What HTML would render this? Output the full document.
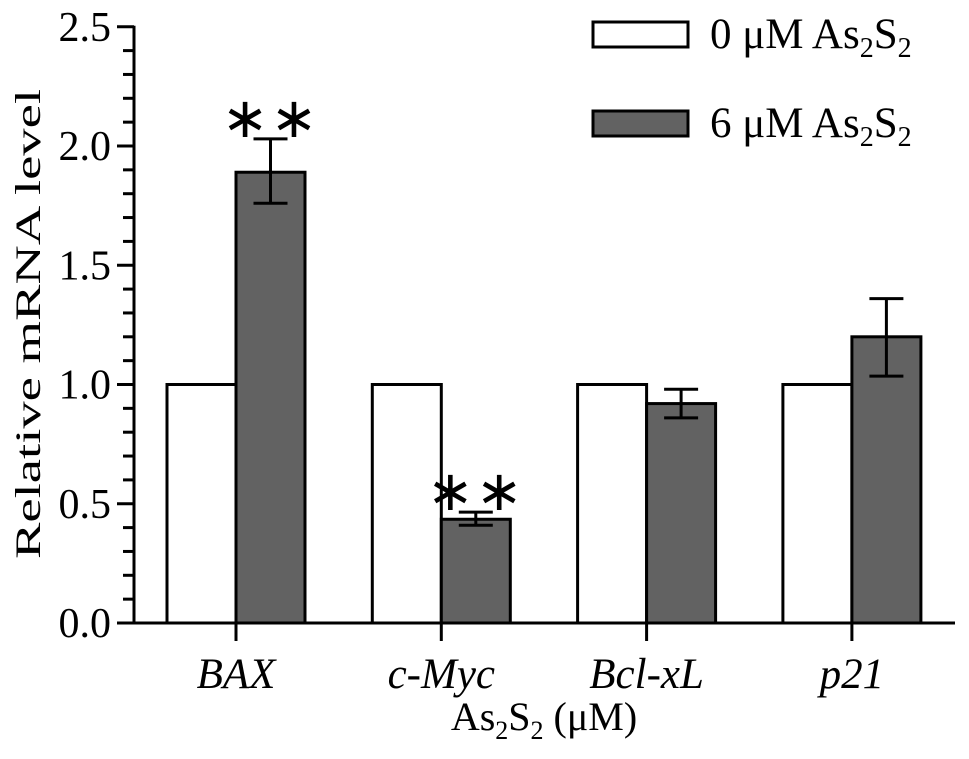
<!DOCTYPE html>
<html><head><meta charset="utf-8"><style>
body{margin:0;background:#fff}
text{font-family:"Liberation Serif",serif;fill:#000}
</style></head><body>
<svg id="c" width="969" height="754" xmlns="http://www.w3.org/2000/svg"></svg>
<script>
const categories=["BAX","c-Myc","Bcl-xL","p21"];
const control=[1,1,1,1];
const treated=[1.89,0.435,0.92,1.2];
const errLow=[1.76,0.41,0.86,1.035];
const errHigh=[2.03,0.465,0.98,1.36];
const sig=["**","**","",""];
const yTicks=[0,0.5,1.0,1.5,2.0,2.5];
const ns="http://www.w3.org/2000/svg";
const svg=document.getElementById('c');
const x0=134,y0=623,pxPer=238.5;
const y=v=>y0-v*pxPer;
const cx=i=>236+i*205.3;
const bw=69;
function mk(t,a,p){const e=document.createElementNS(ns,t);for(const k in a)e.setAttribute(k,a[k]);(p||svg).appendChild(e);return e;}
const yAxis=mk('g',{});


mk('line',{x1:x0,y1:y(2.5)-1,x2:x0,y2:y0+1.5,stroke:'#000','stroke-width':3},yAxis);
for(let k=0;k<=25;k++){const v=k/10;const major=k%5===0;
mk('line',{x1:major?117:123,y1:y(v),x2:x0,y2:y(v),stroke:'#000','stroke-width':3},yAxis);}
yTicks.forEach(v=>{const t=mk('text',{x:111,y:y(v)+14,'text-anchor':'end','font-size':42},yAxis);t.textContent=v.toFixed(1);

});
const yt=mk('text',{transform:'translate(40,324) rotate(-90)','text-anchor':'middle','font-size':36,textLength:470,lengthAdjust:'spacingAndGlyphs'});
yt.textContent='Relative mRNA level';


const xAxis=mk('g',{});


mk('line',{x1:x0-1.5,y1:y0,x2:955,y2:y0,stroke:'#000','stroke-width':3},xAxis);
categories.forEach((c,i)=>{
mk('line',{x1:cx(i),y1:y0,x2:cx(i),y2:641,stroke:'#000','stroke-width':3},xAxis);
const t=mk('text',{x:cx(i),y:688,'text-anchor':'middle','font-size':43,'font-style':'italic'},xAxis);t.textContent=c;


const b1=mk('rect',{x:cx(i)-bw,y:y(control[i]),width:bw,height:y0-y(control[i]),fill:'#fff',stroke:'#000','stroke-width':3});


const b2=mk('rect',{x:cx(i),y:y(treated[i]),width:bw,height:y0-y(treated[i]),fill:'#626262',stroke:'#000','stroke-width':3});


const m=cx(i)+bw/2;
const eb=mk('g',{stroke:'#000','stroke-width':3});


mk('line',{x1:m,y1:y(errHigh[i]),x2:m,y2:y(errLow[i])},eb);
mk('line',{x1:m-17,y1:y(errHigh[i]),x2:m+17,y2:y(errHigh[i])},eb);
mk('line',{x1:m-17,y1:y(errLow[i]),x2:m+17,y2:y(errLow[i])},eb);
if(sig[i]){const s=mk('text',{x:m,y:y(errHigh[i])-2,'text-anchor':'middle','font-size':56,'letter-spacing':2});s.textContent='∗∗';

}
});
const xt=mk('text',{x:544,y:730,'text-anchor':'middle','font-size':40});
xt.innerHTML='As<tspan font-size="26" dy="9">2</tspan><tspan dy="-9">S</tspan><tspan font-size="26" dy="9">2</tspan><tspan dy="-9"> (μM)</tspan>';


[['#fff','0 μM As',35],['#626262','6 μM As',124]].forEach((l,j)=>{
const g=mk('g',{});


mk('rect',{x:593,y:l[2]-13,width:95,height:25,fill:l[0],stroke:'#000','stroke-width':3},g);
const t=mk('text',{x:710,y:l[2]+13,'font-size':43},g);
t.innerHTML=l[1]+'<tspan font-size="28" dy="9">2</tspan><tspan dy="-9">S</tspan><tspan font-size="28" dy="9">2</tspan>';
});
</script>
</body></html>
